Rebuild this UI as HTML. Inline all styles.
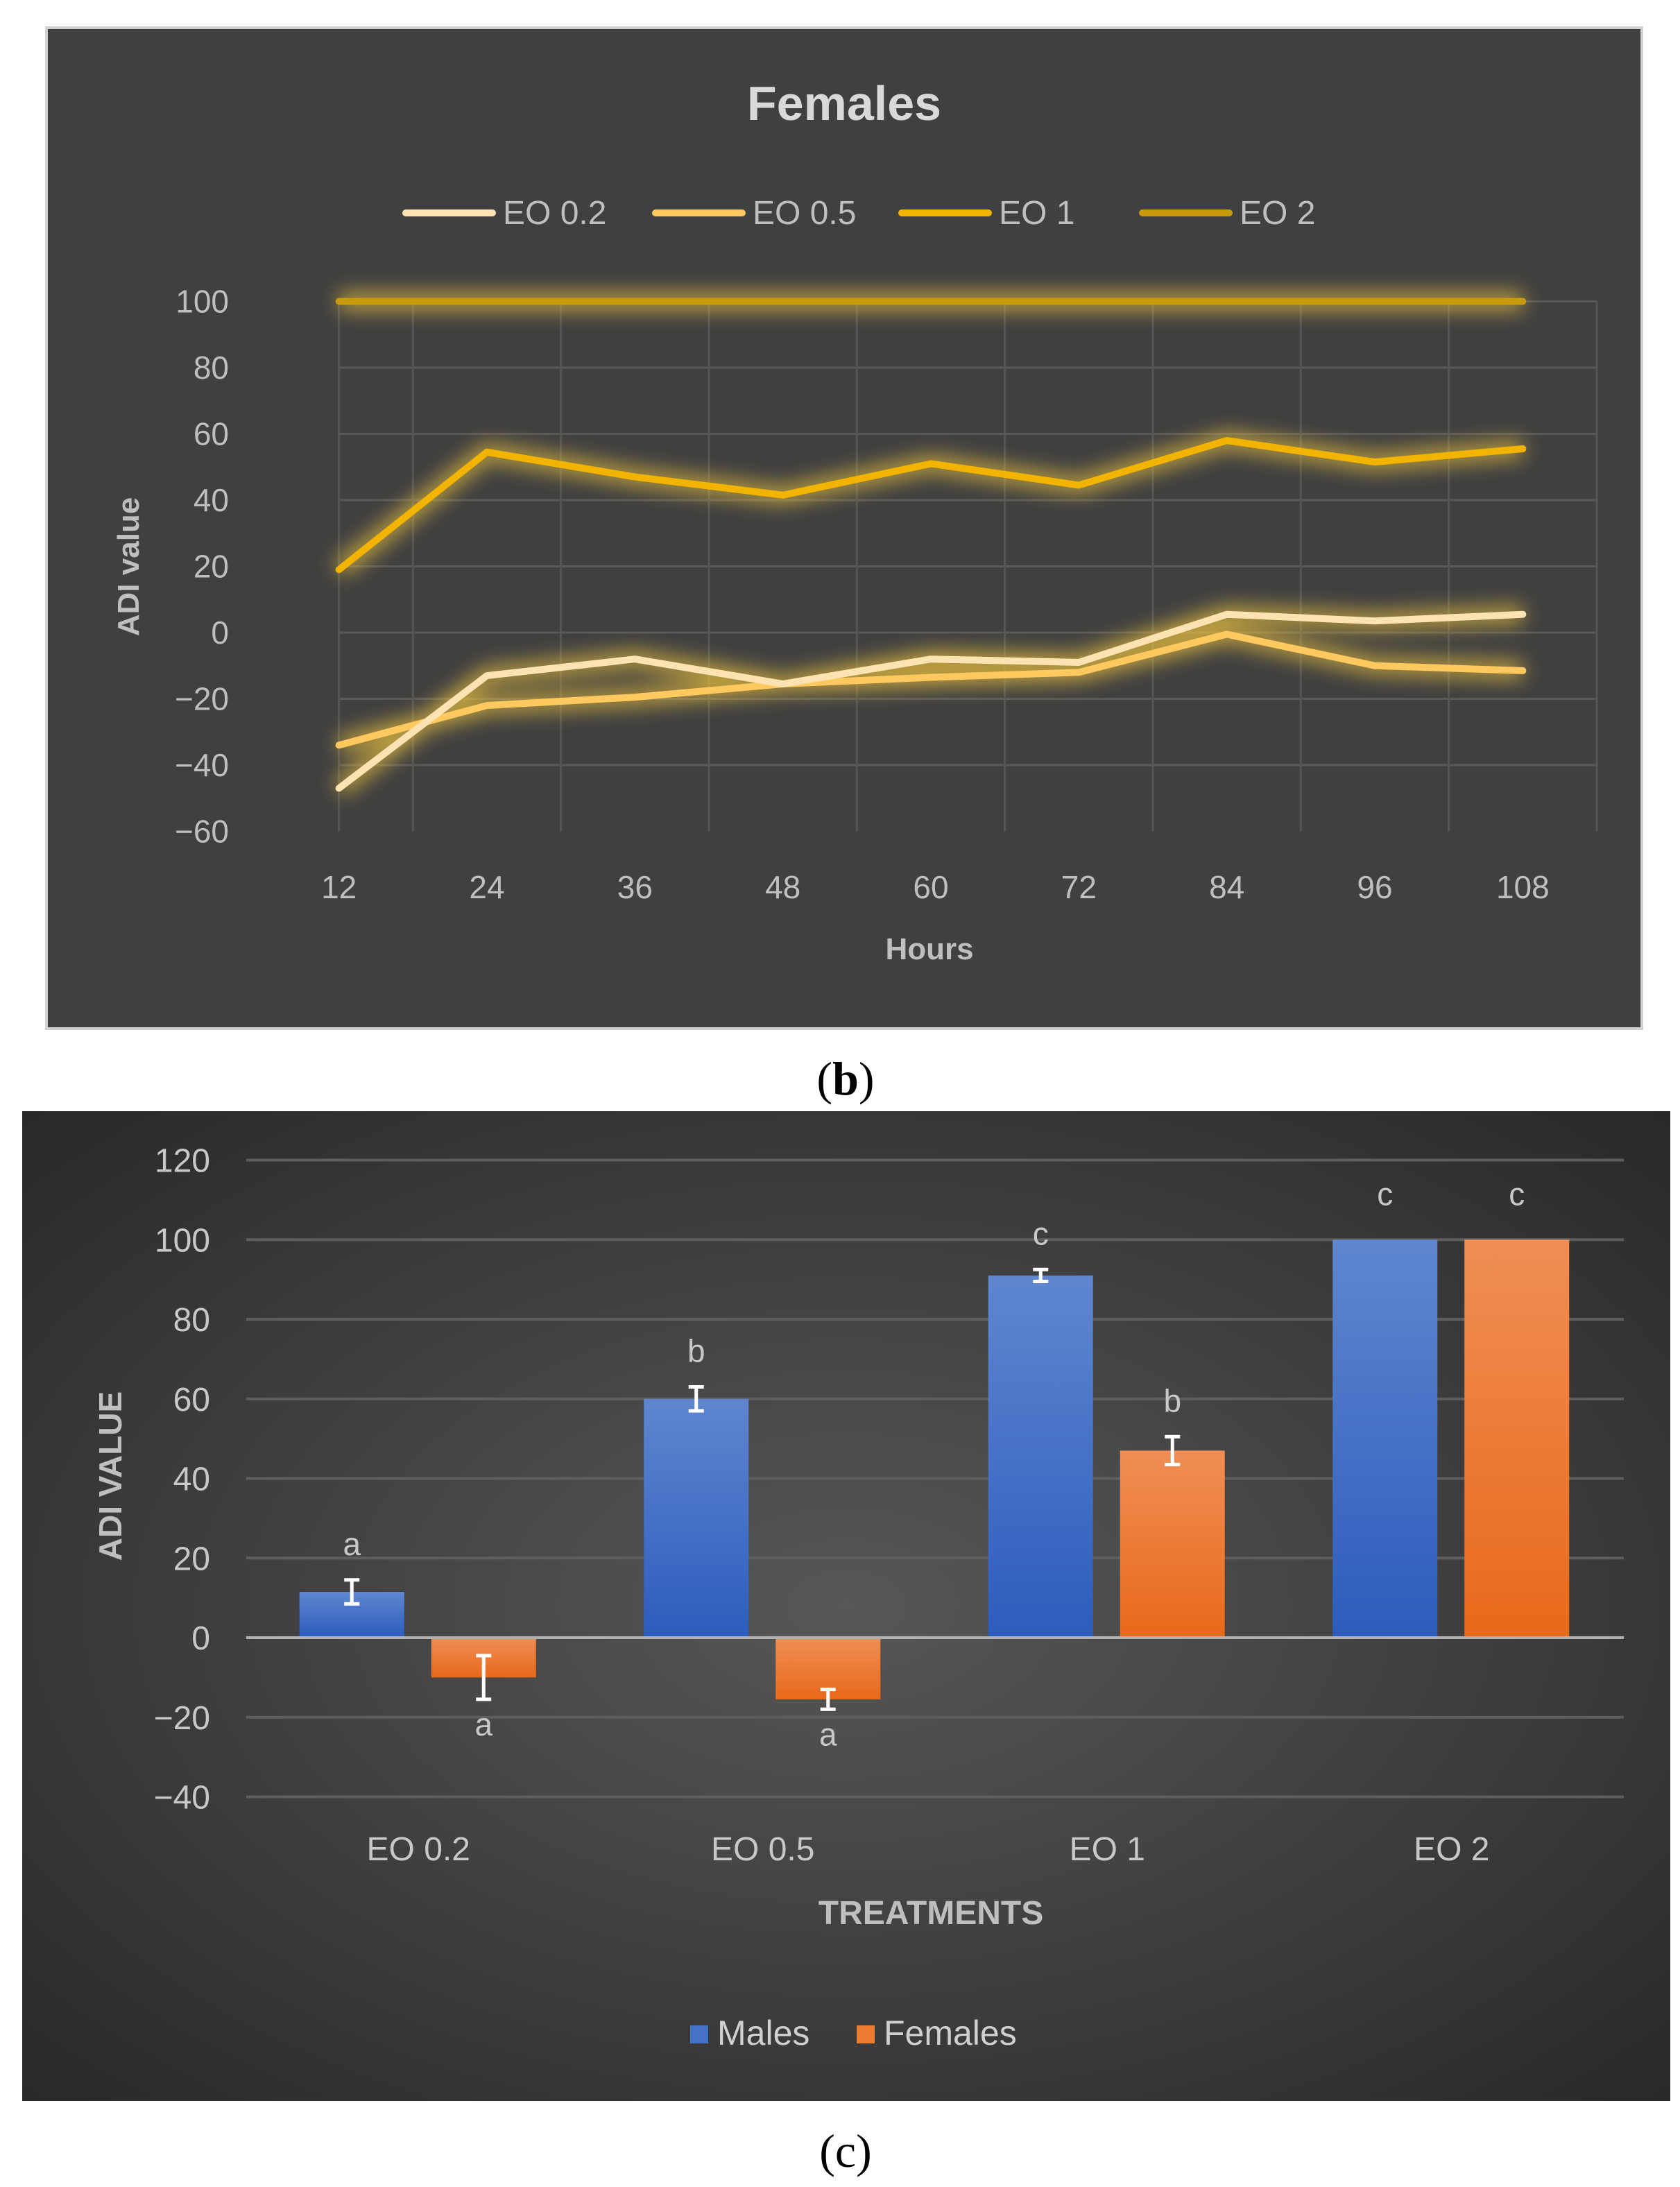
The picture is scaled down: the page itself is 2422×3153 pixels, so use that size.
<!DOCTYPE html>
<html><head><meta charset="utf-8"><style>
html,body{margin:0;padding:0;background:#fff;}
body{width:2422px;height:3153px;position:relative;overflow:hidden;font-family:"Liberation Sans",sans-serif;}
svg{position:absolute;left:0;top:0;}
</style></head><body>
<svg id="root" width="2422" height="3153" viewBox="0 0 2422 3153" xmlns="http://www.w3.org/2000/svg">
<defs>
<filter id="glow" x="-20%" y="-50%" width="140%" height="200%">
<feGaussianBlur stdDeviation="14" in="SourceGraphic" result="b"/>
</filter>
<radialGradient id="bgc" cx="0.5" cy="0.5" r="0.75">
<stop offset="0" stop-color="#575757"/><stop offset="1" stop-color="#262626"/>
</radialGradient>
<linearGradient id="gb" x1="0" y1="0" x2="0" y2="1"><stop offset="0" stop-color="#5f86cf"/><stop offset="1" stop-color="#2c5cbd"/></linearGradient>
<linearGradient id="go" x1="0" y1="0" x2="0" y2="1"><stop offset="0" stop-color="#f08e55"/><stop offset="1" stop-color="#e8691a"/></linearGradient>
</defs>
<g id="chartB">
<rect x="67" y="40" width="2300" height="1443" fill="#404040" stroke="#d0d0d0" stroke-width="4"/>
<text x="1217" y="173" text-anchor="middle" font-size="70" font-weight="bold" fill="#d9d9d9">Females</text>
<g id="legB"></g>
<g id="gridB"></g><g id="glowB" filter="url(#glow)" opacity="0.75"></g><g id="linesB"></g><g id="axB"></g>
<text x="1340" y="1383" text-anchor="middle" font-size="44" font-weight="bold" fill="#bfbfbf">Hours</text>
<text transform="translate(200,817) rotate(-90)" text-anchor="middle" font-size="44" font-weight="bold" fill="#bfbfbf">ADI value</text>
</g>
<text x="1219" y="1578" text-anchor="middle" font-size="68" font-family="Liberation Serif,serif" fill="#000">(<tspan font-weight="bold">b</tspan>)</text>
<g id="chartC">
<rect x="32" y="1602" width="2376" height="1427" fill="url(#bgc)"/>
<g id="gridC"></g><g id="barsC"></g><g id="axC"></g>
<text x="1342" y="2774" text-anchor="middle" font-size="48" font-weight="bold" fill="#bfbfbf">TREATMENTS</text>
<text transform="translate(175,2128) rotate(-90)" text-anchor="middle" font-size="46" font-weight="bold" fill="#bfbfbf">ADI VALUE</text>
<rect x="995" y="2920" width="26" height="26" fill="#4472c4"/>
<text x="1034" y="2948" font-size="50" fill="#d0d0d0">Males</text>
<rect x="1235" y="2920" width="26" height="26" fill="#ed7d31"/>
<text x="1274" y="2948" font-size="50" fill="#d0d0d0">Females</text>
</g>
<text x="1219" y="3124" text-anchor="middle" font-size="68" font-family="Liberation Serif,serif" fill="#000">(c)</text>
</svg>
<script>
const NS='http://www.w3.org/2000/svg';
const hours=['12','24','36','48','60','72','84','96','108'];
const seriesNames=['EO 0.2','EO 0.5','EO 1','EO 2'];
const eo02=[-47,-13,-8,-15.5,-8,-9,5.5,3.5,5.5];
const eo05=[-34,-22,-19.5,-15.5,-13.5,-12,-0.5,-10,-11.5];
const eo1=[19,54.5,47,41.5,51,44.5,58,51.5,55.5];
const eo2=[100,100,100,100,100,100,100,100,100];
const yTicksB=[100,80,60,40,20,0,-20,-40,-60];
const treatments=['EO 0.2','EO 0.5','EO 1','EO 2'];
const males=[11.5,60,91,100];
const females=[-10,-15.5,47,100];
const malesErr=[3,3,1.5,0];
const femalesErr=[5.5,2.5,3.5,0];
const malesLetters=['a','b','c','c'];
const femalesLetters=['a','a','b','c'];
const yTicksC=[120,100,80,60,40,20,0,-20,-40];

function mk(tag,attrs,parent){const e=document.createElementNS(NS,tag);for(const k in attrs)e.setAttribute(k,attrs[k]);parent.appendChild(e);return e;}
// Chart B
const bL=382,bR=2302,bStep=(bR-bL)/hours.length;
const xB=i=>bL+bStep*(i+0.5);
const yB=v=>912-v*4.775;
const gL=xB(0);
const gB=document.getElementById('gridB'),axB=document.getElementById('axB');
yTicksB.forEach(t=>{
 if(t>-60){const l=mk('line',{x1:gL,x2:bR,y1:yB(t),y2:yB(t),stroke:'#595959','stroke-width':3},gB);
 
 }
 const tx=mk('text',{x:330,y:yB(t)+16,'text-anchor':'end','font-size':46,fill:'#bfbfbf'},axB);tx.textContent=t<0?'\u2212'+(-t):t;
 
 
});
for(let i=0;i<=hours.length;i++){const x=i===0?gL:bL+bStep*i;const l=mk('line',{x1:x,x2:x,y1:yB(100),y2:yB(-60),stroke:'#555','stroke-width':3},gB);
 
 }
hours.forEach((h,i)=>{const t=mk('text',{x:xB(i),y:1295,'text-anchor':'middle','font-size':46,fill:'#bfbfbf'},axB);t.textContent=h;
 
 });
const colsB=['#fde3b2','#ffc960','#f2b400','#c99a0c'];
const dataB=[eo02,eo05,eo1,eo2];
const glowB=document.getElementById('glowB'),linesB=document.getElementById('linesB');
[3,2,1,0].forEach(s=>{
 const pts=dataB[s].map((v,i)=>xB(i)+','+yB(v)).join(' ');
 mk('polyline',{points:pts,fill:'none',stroke:'#e8c040','stroke-width':26,'stroke-linejoin':'round'},glowB);
 const p=mk('polyline',{points:pts,fill:'none',stroke:colsB[s],'stroke-width':10,'stroke-linejoin':'round','stroke-linecap':'round'},linesB);
 
 
});
const legB=document.getElementById('legB');
const legX=[585,945,1300,1647];
seriesNames.forEach((n,i)=>{
 const l=mk('line',{x1:legX[i],x2:legX[i]+125,y1:307,y2:307,stroke:colsB[i],'stroke-width':10,'stroke-linecap':'round'},legB);
 
 
 const t=mk('text',{x:legX[i]+140,y:323,'font-size':48,fill:'#bfbfbf'},legB);t.textContent=n;
 
 
});
// Chart C
const cL=355,cR=2341,cStep=(cR-cL)/treatments.length;
const xC=i=>cL+cStep*(i+0.5);
const yC=v=>2361-v*5.7375;
const gC=document.getElementById('gridC'),axC=document.getElementById('axC'),barsC=document.getElementById('barsC');
yTicksC.forEach(t=>{
 const l=mk('line',{x1:cL,x2:cR,y1:yC(t),y2:yC(t),stroke:'#5e5e5e','stroke-width':4},gC);
 
 
 const tx=mk('text',{x:303,y:yC(t)+17,'text-anchor':'end','font-size':48,fill:'#c8c8c8'},axC);tx.textContent=t<0?'\u2212'+(-t):t;
 
 
});
treatments.forEach((n,i)=>{const t=mk('text',{x:xC(i),y:2682,'text-anchor':'middle','font-size':48,fill:'#c8c8c8'},axC);t.textContent=n;
 
 });
const bw=151;
function bar(i,v,e,letter,off,fill,name){
 const cx=xC(i)+off,y0=yC(0),y1=yC(v);
 const r=mk('rect',{x:cx-bw/2,y:Math.min(y0,y1),width:bw,height:Math.abs(y1-y0),fill:fill},barsC);
 
 
 if(e>0){
  const eg=mk('g',{stroke:'#fff','stroke-width':5},barsC);
  
  
  mk('line',{x1:cx,x2:cx,y1:yC(v+e),y2:yC(v-e)},eg);
  mk('line',{x1:cx-11,x2:cx+11,y1:yC(v+e),y2:yC(v+e)},eg);
  mk('line',{x1:cx-11,x2:cx+11,y1:yC(v-e),y2:yC(v-e)},eg);
 }
 const ly=v>=0?yC(v+e)-36:yC(v-e)+52;
 const t=mk('text',{x:cx,y:v>=100?yC(v)-50:ly,'text-anchor':'middle','font-size':46,fill:'#c8c8c8'},barsC);t.textContent=letter;
 
 
}
treatments.forEach((n,i)=>{
 bar(i,males[i],malesErr[i],malesLetters[i],-96,'url(#gb)','bar-males');
 bar(i,females[i],femalesErr[i],femalesLetters[i],94,'url(#go)','bar-females');
});
const z=mk('line',{x1:cL,x2:cR,y1:yC(0),y2:yC(0),stroke:'#b0b0b0','stroke-width':4},barsC);


</script>
</body></html>
